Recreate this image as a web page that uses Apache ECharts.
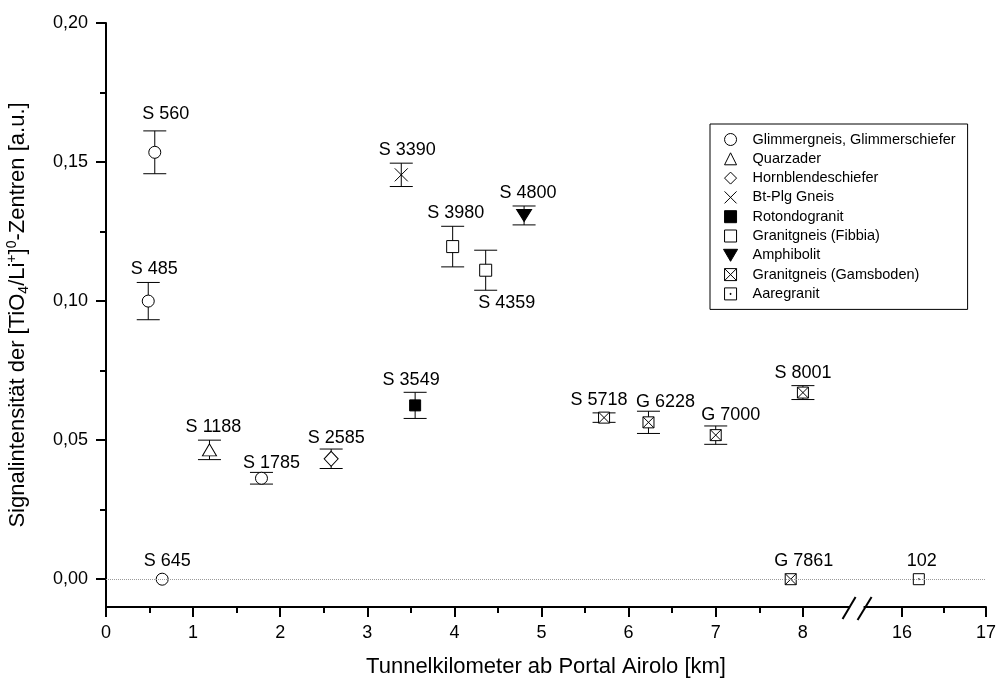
<!DOCTYPE html>
<html>
<head>
<meta charset="utf-8">
<script src="https://cdn.jsdelivr.net/npm/echarts@6/dist/echarts.min.js"></script>
<style>
  html, body { margin: 0; padding: 0; background: #fff; }
  #chart { width: 1001px; height: 686px; }
</style>
</head>
<body>
<div id="chart"></div>
<script>
// Rock groups in legend order
const groups = [
  'Glimmergneis, Glimmerschiefer',
  'Quarzader',
  'Hornblendeschiefer',
  'Bt-Plg Gneis',
  'Rotondogranit',
  'Granitgneis (Fibbia)',
  'Amphibolit',
  'Granitgneis (Gamsboden)',
  'Aaregranit'
];

// Samples: label, rock group, tunnel kilometre, signal intensity, error (±)
const sampleNames  = ['S 485', 'S 560', 'S 645', 'S 1785', 'S 1188', 'S 2585', 'S 3390', 'S 3549', 'S 3980', 'S 4359', 'S 4800', 'S 5718', 'G 6228', 'G 7000', 'G 7861', 'S 8001', '102'];
const sampleGroup  = [0, 0, 0, 0, 1, 2, 3, 4, 5, 5, 6, 7, 7, 7, 7, 7, 8];
const sampleKm     = [0.485, 0.560, 0.645, 1.785, 1.188, 2.585, 3.390, 3.549, 3.980, 4.359, 4.800, 5.718, 6.228, 7.000, 7.861, 8.001, 16.2];
const sampleSignal = [0.1000, 0.1535, 0, 0.0363, 0.0465, 0.0433, 0.1454, 0.0625, 0.1196, 0.1111, 0.1308, 0.0581, 0.0564, 0.0518, 0, 0.0671, 0];
const sampleError  = [0.0067, 0.0077, 0, 0.0021, 0.0035, 0.0035, 0.0042, 0.0047, 0.0073, 0.0072, 0.0034, 0.0017, 0.0040, 0.0033, 0, 0.0025, 0];

// Axis ticks
const xTickKm  = [0, 1, 2, 3, 4, 5, 6, 7, 8, 16, 17];
const xMinorKm = [0.5, 1.5, 2.5, 3.5, 4.5, 5.5, 6.5, 7.5, 16.5];
const yTicks   = [0, 0.05, 0.10, 0.15, 0.20];
const yMinor   = [0.025, 0.075, 0.125, 0.175];
const Y_MIN = -0.01, Y_MAX = 0.20;

// Broken x axis: the stretch between BREAK_FROM and BREAK_TO km is cut out
const BREAK_FROM = 8.6, BREAK_TO = 15.5, BREAK_GAP = 0.057, AFTER_SCALE = 0.964;
function axisX(km) {
  return km <= BREAK_FROM ? km : BREAK_FROM + BREAK_GAP + (km - BREAK_TO) * AFTER_SCALE;
}
function kmLabel(v) {
  for (const km of xTickKm) if (Math.abs(axisX(km) - v) < 1e-6) return String(km);
  return '';
}

// Marker look for each rock group
const groupSymbols = [
  { symbol: 'circle', size: 12, fill: '#fff' },
  { symbol: 'path://M5,0L10,10L0,10Z', size: [14, 12], fill: '#fff' },
  { symbol: 'path://M5,0L10,5L5,10L0,5Z', size: [14, 15], fill: '#fff' },
  { symbol: 'path://M0,0L10,10M10,0L0,10', size: 13, fill: '#fff' },
  { symbol: 'path://M0,0L10,0L10,10L0,10Z', size: 11, fill: '#000' },
  { symbol: 'path://M0,0L10,0L10,10L0,10Z', size: 12, fill: '#fff' },
  { symbol: 'path://M0,0L10,0L5,8.5Z', size: [15, 12], fill: '#000' },
  { symbol: 'path://M0,0L10,0L10,10L0,10Z M0,0L10,10 M10,0L0,10', size: 11, fill: '#fff' },
  { symbol: 'path://M0,0L10,0L10,10L0,10Z M4.6,4.6L5.4,4.6L5.4,5.4L4.6,5.4Z', size: 11, fill: '#fff' }
];

// Sample label placement (pixel nudges; gap = baseline distance above the bar top)
const labelLayout = {
  'S 485': { dx: 6 }, 'S 560': { dx: 11, gap: 11 }, 'S 645': { dx: 5, gap: 6 },
  'S 1188': { dx: 4 }, 'S 1785': { dx: 10, gap: 3 }, 'S 2585': { dx: 5, gap: 5 },
  'S 3390': { dx: 6 }, 'S 3549': { dx: -4, gap: 6 }, 'S 3980': { dx: 3 },
  'S 4359': { dx: 21, below: true }, 'S 4800': { dx: 4 }, 'S 5718': { dx: -5 },
  'G 6228': { dx: 17, gap: 3 }, 'G 7000': { dx: 15, gap: 5 }, 'G 7861': { dx: 13, gap: 6 },
  'S 8001': { dx: 0 }, '102': { dx: 3, gap: 6 }
};

const FONT = "'Liberation Sans', Arial, Helvetica, sans-serif";

const scatterSeries = groups.map((g, gi) => ({
  name: g,
  type: 'scatter',
  xAxisIndex: 0,
  yAxisIndex: 0,
  z: 3,
  symbol: groupSymbols[gi].symbol,
  symbolSize: groupSymbols[gi].size,
  itemStyle: { color: groupSymbols[gi].fill, borderColor: '#000', borderWidth: 1, opacity: 1 },
  emphasis: { disabled: true },
  data: sampleNames
    .map((n, i) => i)
    .filter(i => sampleGroup[i] === gi)
    .map(i => [axisX(sampleKm[i]), sampleSignal[i]])
}));

const errorSeries = {
  type: 'custom',
  xAxisIndex: 0,
  yAxisIndex: 0,
  z: 2,
  silent: true,
  data: sampleNames.map((n, i) => [axisX(sampleKm[i]), sampleSignal[i], sampleError[i], i]),
  renderItem: function (params, api) {
    const x = api.value(0), y = api.value(1), e = api.value(2), idx = api.value(3);
    const name = sampleNames[idx];
    const lay = labelLayout[name] || {};
    const children = [];
    const cap = 11.5;
    const c = api.coord([x, y]);
    let topY = c[1] - 6, botY = c[1] + 6;
    if (e > 0) {
      const t = api.coord([x, y + e]), b = api.coord([x, y - e]);
      topY = t[1]; botY = b[1];
      const ls = { stroke: '#000', lineWidth: 1 };
      children.push({ type: 'line', shape: { x1: t[0], y1: t[1], x2: b[0], y2: b[1] }, style: ls });
      children.push({ type: 'line', shape: { x1: t[0] - cap, y1: t[1], x2: t[0] + cap, y2: t[1] }, style: ls });
      children.push({ type: 'line', shape: { x1: b[0] - cap, y1: b[1], x2: b[0] + cap, y2: b[1] }, style: ls });
    }
    const dx = lay.dx || 0;
    if (lay.below) {
      children.push({ type: 'text', x: c[0] + dx, y: botY + 3.5,
        style: { text: name, fontSize: 18, fontFamily: FONT, fill: '#000', align: 'center', verticalAlign: 'top' } });
    } else {
      const gap = lay.gap != null ? lay.gap : 7;
      children.push({ type: 'text', x: c[0] + dx, y: topY - gap + 3,
        style: { text: name, fontSize: 18, fontFamily: FONT, fill: '#000', align: 'center', verticalAlign: 'bottom' } });
    }
    return { type: 'group', children };
  },
  markLine: {
    silent: true,
    symbol: 'none',
    label: { show: false },
    lineStyle: { color: '#9a9a9a', type: 'dotted', width: 1 },
    data: [{ yAxis: 0 }]
  }
};

const chart = echarts.init(document.getElementById('chart'), null, { renderer: 'canvas' });

chart.setOption({
  animation: false,
  backgroundColor: '#fff',
  textStyle: { fontFamily: FONT, color: '#000' },
  grid: { left: 106, right: 15, top: 23, bottom: 79, containLabel: false, outerBoundsMode: 'none' },
  legend: {
    orient: 'vertical',
    left: 710,
    top: 124,
    data: groups,
    selectedMode: false,
    padding: [8, 12, 8, 13],
    itemWidth: 34,
    itemHeight: 12,
    itemGap: 4.3,
    symbolKeepAspect: true,
    borderColor: '#000',
    borderWidth: 1,
    borderRadius: 0,
    backgroundColor: '#fff',
    itemStyle: { borderWidth: 1, borderColor: '#000' },
    textStyle: { fontSize: 14.5, fontFamily: FONT, color: '#000', lineHeight: 14 }
  },
  xAxis: [
    {
      type: 'value', position: 'bottom', min: 0, max: axisX(17),
      axisLine: { show: true, onZero: false, lineStyle: { color: '#000', width: 2 } },
      axisTick: { show: true, customValues: xTickKm.map(axisX), length: 10, lineStyle: { color: '#000', width: 2 } },
      axisLabel: { show: true, customValues: xTickKm.map(axisX), formatter: kmLabel, margin: 17,
                   fontSize: 18, fontFamily: FONT, color: '#000' },
      splitLine: { show: false },
      name: 'Tunnelkilometer ab Portal Airolo [km]',
      nameLocation: 'middle',
      nameGap: 49,
      nameTextStyle: { fontSize: 22, fontFamily: FONT, color: '#000' }
    },
    {
      type: 'value', position: 'bottom', min: 0, max: axisX(17),
      axisLine: { show: false, onZero: false },
      axisTick: { show: true, customValues: xMinorKm.map(axisX), length: 6, lineStyle: { color: '#000', width: 2 } },
      axisLabel: { show: false },
      splitLine: { show: false }
    }
  ],
  yAxis: [
    {
      type: 'value', position: 'left', min: Y_MIN, max: Y_MAX,
      axisLine: { show: true, onZero: false, lineStyle: { color: '#000', width: 2 } },
      axisTick: { show: true, customValues: yTicks, length: 10, lineStyle: { color: '#000', width: 2 } },
      axisLabel: { show: true, customValues: yTicks, margin: 18, fontSize: 18, fontFamily: FONT, color: '#000',
                   formatter: v => v.toFixed(2).replace('.', ',') },
      splitLine: { show: false },
      name: '{t|Signalintensität der [TiO}{sub|4}{t|/Li}{sup|+}{t|]}{sup|0}{t|-Zentren [a.u.]}',
      nameLocation: 'middle',
      nameGap: 75,
      nameRotate: 90,
      nameTextStyle: {
        fontSize: 22, fontFamily: FONT, color: '#000',
        rich: {
          t: { fontSize: 22, fontFamily: FONT, color: '#000', lineHeight: 26 },
          sub: { fontSize: 14, fontFamily: FONT, color: '#000', lineHeight: 14, verticalAlign: 'bottom' },
          sup: { fontSize: 14, fontFamily: FONT, color: '#000', lineHeight: 14, verticalAlign: 'top' }
        }
      }
    },
    {
      type: 'value', position: 'left', min: Y_MIN, max: Y_MAX,
      axisLine: { show: false, onZero: false },
      axisTick: { show: true, customValues: yMinor, length: 6, lineStyle: { color: '#000', width: 2 } },
      axisLabel: { show: false },
      splitLine: { show: false }
    }
  ],
  series: [errorSeries, ...scatterSeries]
});

// Break marks "//" on the x axis
const bx = chart.convertToPixel({ xAxisIndex: 0 }, BREAK_FROM + BREAK_GAP / 2);
const by = chart.convertToPixel({ yAxisIndex: 0 }, Y_MIN);
chart.setOption({
  graphic: [
    { type: 'rect', silent: true, z: 100, shape: { x: bx - 8, y: by - 3, width: 14, height: 6 }, style: { fill: '#fff' } },
    { type: 'line', silent: true, z: 101, shape: { x1: bx - 15, y1: by + 12, x2: bx - 2, y2: by - 10 }, style: { stroke: '#000', lineWidth: 2 } },
    { type: 'line', silent: true, z: 101, shape: { x1: bx, y1: by + 13, x2: bx + 14, y2: by - 10 }, style: { stroke: '#000', lineWidth: 2 } }
  ]
});
</script>
</body>
</html>
